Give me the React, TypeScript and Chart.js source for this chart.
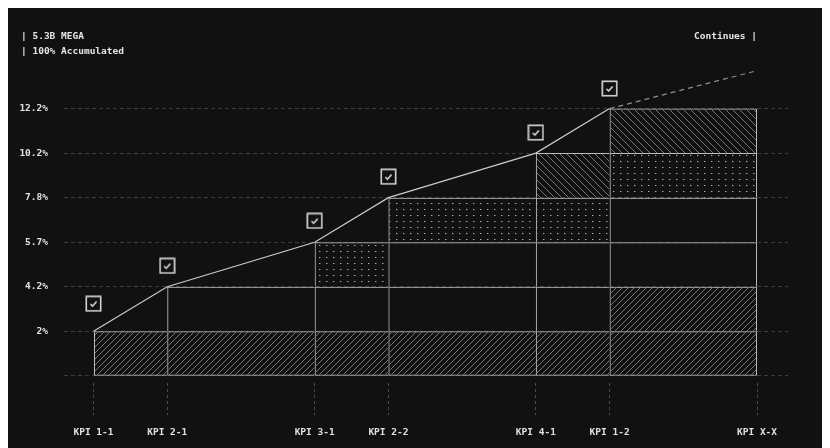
import { useEffect, useRef } from 'react';
import { Chart, registerables } from 'chart.js';

Chart.register(...registerables);

// ---- data ----
const kpiLabels = ['KPI 1-1', 'KPI 2-1', 'KPI 3-1', 'KPI 2-2', 'KPI 4-1', 'KPI 1-2', 'KPI X-X'];
const kpiPositions = [0, 1, 3, 4, 6, 7, 9];
const levelLabels = ['', '2%', '4.2%', '5.7%', '7.8%', '10.2%', '12.2%'];
const accumulatedLevels = [1, 2, 3, 4, 5, 6];
const projectionPositions = [7, 9];
const projectionLevels = [6, 6.85];
const checkLevels = [1.62, 2.47, 3.48, 4.47, 5.46, 6.45];
// pattern of each cell of each band (band b starts at KPI b and is split at every later KPI)
const bandPatterns = [
  ['fwd', 'fwd', 'fwd', 'fwd', 'fwd', 'fwd'],
  ['none', 'none', 'none', 'none', 'fwd'],
  ['dots', 'none', 'none', 'none'],
  ['dots', 'dots', 'none'],
  ['back', 'dots'],
  ['back'],
];
const headerLines = ['| 5.3B MEGA', '| 100% Accumulated'];
const headerRight = 'Continues |';

const FONT = "'DejaVu Sans Mono', monospace";

function makePattern(ctx: CanvasRenderingContext2D, kind: string): CanvasPattern | string {
  if (kind === 'none') return 'rgba(0,0,0,0)';
  const t = document.createElement('canvas');
  if (kind === 'fwd') {
    t.width = 6; t.height = 6;
    const g = t.getContext('2d')!;
    g.strokeStyle = '#767676'; g.lineWidth = 1;
    g.beginPath();
    g.moveTo(0, 6); g.lineTo(6, 0);
    g.moveTo(-1, 1); g.lineTo(1, -1);
    g.moveTo(5, 7); g.lineTo(7, 5);
    g.stroke();
  } else if (kind === 'back') {
    t.width = 7; t.height = 7;
    const g = t.getContext('2d')!;
    g.strokeStyle = '#767676'; g.lineWidth = 1;
    g.beginPath();
    g.moveTo(0, 0); g.lineTo(7, 7);
    g.moveTo(-1, 6); g.lineTo(1, 8);
    g.moveTo(6, -1); g.lineTo(8, 1);
    g.stroke();
  } else {
    t.width = 7; t.height = 6;
    const g = t.getContext('2d')!;
    g.fillStyle = '#b0b0b0';
    g.fillRect(3, 3, 1, 1);
    g.fillStyle = '#505050';
    g.fillRect(4, 3, 1, 1);
  }
  return ctx.createPattern(t, 'repeat') || 'rgba(0,0,0,0)';
}

function makeCheck(): HTMLCanvasElement {
  const c = document.createElement('canvas');
  c.width = 17; c.height = 17;
  const g = c.getContext('2d')!;
  g.fillStyle = '#111111';
  g.fillRect(1, 1, 15, 15);
  g.strokeStyle = '#d6d6d6'; g.lineWidth = 1.6;
  g.strokeRect(1.3, 1.3, 14.4, 14.4);
  g.strokeStyle = '#f4f4f4'; g.lineWidth = 1.4; g.lineCap = 'round'; g.lineJoin = 'round';
  g.beginPath();
  g.moveTo(5.8, 9.2); g.lineTo(7.6, 10.9); g.lineTo(11.2, 6.8);
  g.stroke();
  return c;
}

export default function App() {
  const ref = useRef<HTMLCanvasElement>(null);

  useEffect(() => {
    document.documentElement.style.overflow = 'hidden';
    const canvas = ref.current!;
    const ctx = canvas.getContext('2d')!;
    const patterns: Record<string, CanvasPattern | string> = {
      fwd: makePattern(ctx, 'fwd'),
      back: makePattern(ctx, 'back'),
      dots: makePattern(ctx, 'dots'),
      none: 'rgba(0,0,0,0)',
    };
    const lastPos = kpiPositions[kpiPositions.length - 1];
    const cells: { band: number; start: number; end: number; pattern: string }[] = [];
    bandPatterns.forEach((row, b) =>
      row.forEach((p, j) =>
        cells.push({ band: b, start: kpiPositions[b + j], end: kpiPositions[b + j + 1], pattern: p })
      )
    );
    const checkImg = makeCheck();
    const fontSpec = { family: FONT, size: 9.5, weight: 'bold' as const };

    const chart = new Chart(canvas, {
      type: 'bar',
      data: {
        datasets: [
          {
            type: 'line',
            label: 'checks',
            data: accumulatedLevels.map((_, i) => ({ x: kpiPositions[i], y: checkLevels[i] })),
            showLine: false,
            pointStyle: checkImg as any,
            pointRadius: 8,
            order: 0,
          } as any,
          {
            type: 'line',
            label: 'accumulated',
            data: accumulatedLevels.map((v, i) => ({ x: kpiPositions[i], y: v })),
            borderColor: '#cacaca',
            borderWidth: 1.2,
            pointRadius: 0,
            tension: 0,
            order: 1,
          } as any,
          {
            type: 'line',
            label: 'projection',
            data: projectionLevels.map((v, i) => ({ x: projectionPositions[i], y: v })),
            borderColor: '#8e8e8e',
            borderWidth: 1.2,
            borderDash: [5, 4],
            pointRadius: 0,
            order: 1,
          } as any,
          {
            type: 'bar',
            label: 'cells',
            indexAxis: 'y',
            data: cells.map((c) => ({ x: [c.start, c.end], y: c.band + 0.5 })),
            backgroundColor: (c: any) => {
              const cell = cells[c.dataIndex];
              return cell ? patterns[cell.pattern] : 'rgba(0,0,0,0)';
            },
            borderColor: '#bdbdbd',
            borderWidth: (c: any) => {
              const cell = cells[c.dataIndex];
              if (!cell) return 1;
              return {
                top: 1,
                left: 1,
                right: cell.end === lastPos ? 1 : 0,
                bottom: cell.band === 0 ? 1 : 0,
              };
            },
            borderSkipped: false,
            barPercentage: 1,
            categoryPercentage: 1,
            inflateAmount: 0,
            order: 2,
          } as any,
        ],
      },
      options: {
        responsive: true,
        maintainAspectRatio: false,
        animation: false,
        events: [],
        layout: { padding: { left: 0, right: 42, top: 56, bottom: 0 } },
        plugins: {
          legend: { display: false },
          tooltip: { enabled: false },
          title: { display: false },
        },
        scales: {
          x: {
            type: 'linear',
            offset: false,
            min: -0.4,
            max: 9.42,
            afterBuildTicks: (s: any) => {
              s.ticks = kpiPositions.map((v) => ({ value: v }));
            },
            afterFit: (s: any) => {
              s.height = 65;
            },
            ticks: {
              callback: (_v: any, i: number) => kpiLabels[i],
              color: '#e0e0e0',
              font: fontSpec,
              padding: 12,
              autoSkip: false,
              maxRotation: 0,
            },
            grid: {
              offset: false,
              drawOnChartArea: false,
              drawTicks: true,
              tickLength: 32,
              tickColor: '#4a4a4a',
              tickBorderDash: [3, 3],
              tickWidth: 1,
            },
            border: { display: false },
          } as any,
          y: {
            type: 'linear',
            offset: false,
            min: -0.16,
            max: 7,
            afterBuildTicks: (s: any) => {
              s.ticks = levelLabels.map((_, i) => ({ value: i }));
            },
            afterFit: (s: any) => {
              s.width = 56;
            },
            ticks: {
              callback: (_v: any, i: number) => levelLabels[i],
              color: '#e0e0e0',
              font: fontSpec,
              padding: 16,
            },
            grid: { offset: false, color: '#3c3c3c', drawTicks: false, lineWidth: 1 },
            border: { display: false, dash: [4, 3] },
          } as any,
        },
      },
    });
    return () => chart.destroy();
  }, []);

  const textStyle: React.CSSProperties = {
    position: 'absolute',
    top: 20,
    fontFamily: FONT,
    fontSize: '9.5px',
    fontWeight: 'bold',
    color: '#e4e4e4',
    lineHeight: '15px',
    whiteSpace: 'pre',
  };

  return (
    <div style={{ position: 'relative', width: 822, height: 440, background: '#111111' }}>
      <div style={{ position: 'absolute', inset: 0 }}>
        <canvas ref={ref} />
      </div>
      <div style={{ ...textStyle, left: 13 }}>
        {headerLines.map((l) => (
          <div key={l}>{l}</div>
        ))}
      </div>
      <div style={{ ...textStyle, right: 73 }}>{headerRight}</div>
    </div>
  );
}
